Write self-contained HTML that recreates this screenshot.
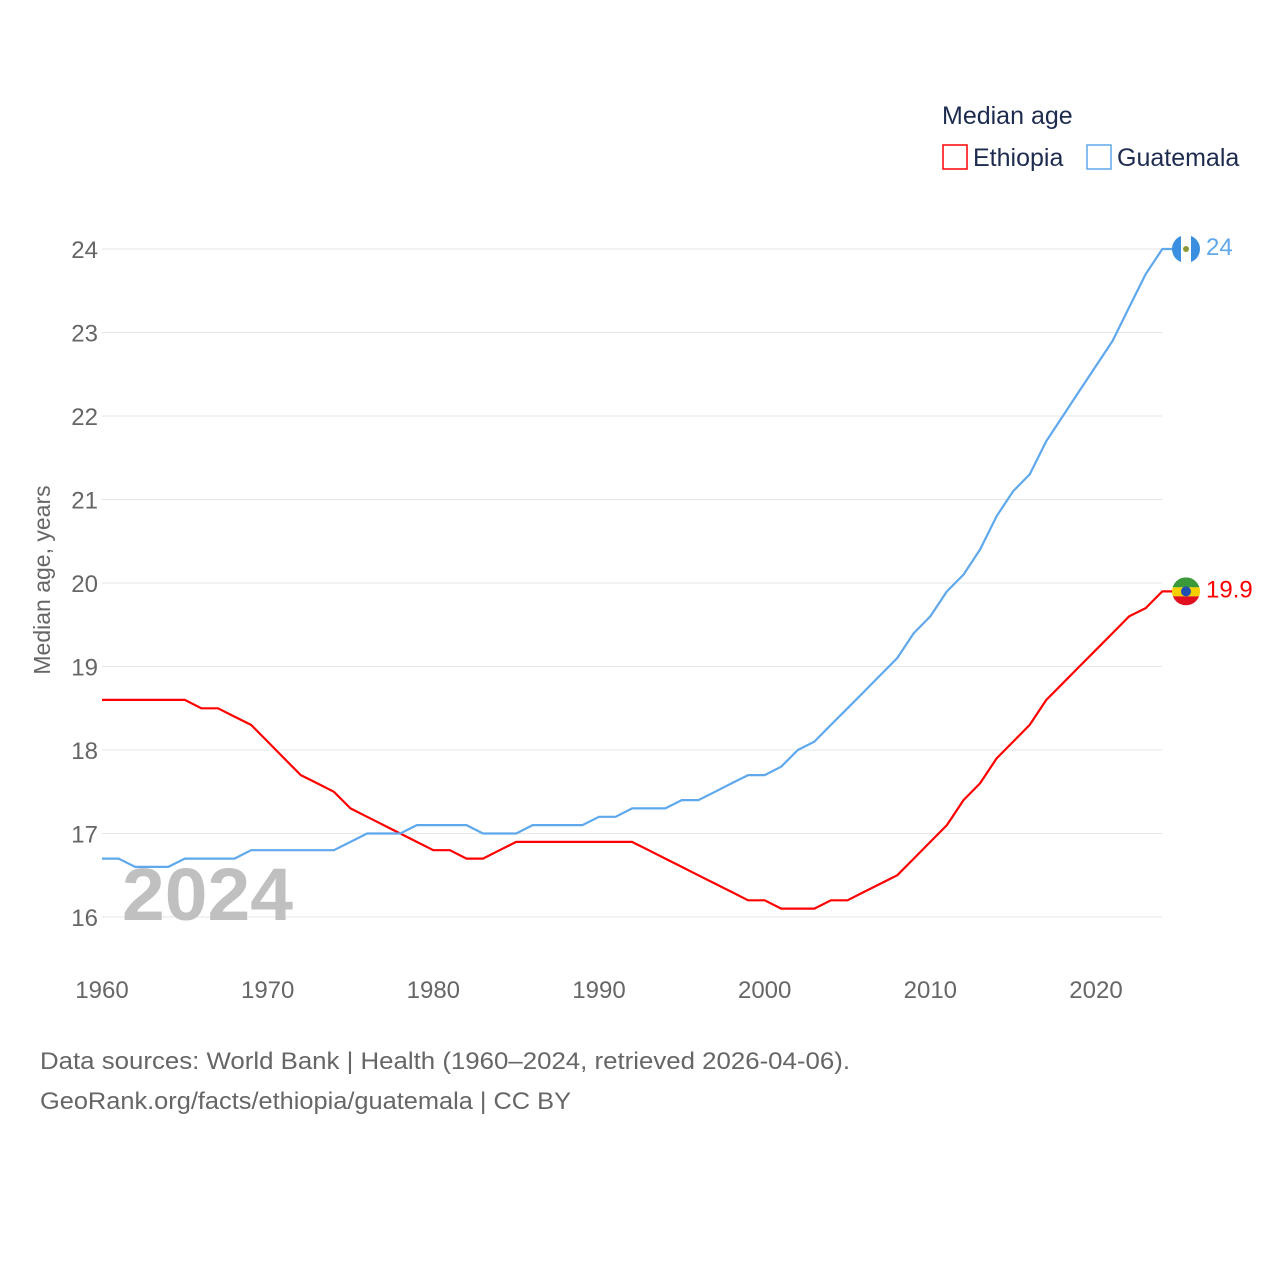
<!DOCTYPE html>
<html><head><meta charset="utf-8">
<style>
html,body{margin:0;padding:0;background:#fff;}
body{width:1280px;height:1280px;position:relative;font-family:"Liberation Sans",sans-serif;overflow:hidden;}
svg text{font-family:"Liberation Sans",sans-serif;}
</style></head><body>
<svg id="chart" width="1280" height="1280" xmlns="http://www.w3.org/2000/svg">
<g id="grid"></g>
<g id="yticks"></g>
<g id="xticks"></g>
<text x="122" y="920" font-size="74" font-weight="bold" fill="#c0c0c0" textLength="171" lengthAdjust="spacingAndGlyphs">2024</text>
<text transform="translate(50,580) rotate(-90)" text-anchor="middle" font-size="23" fill="#666">Median age, years</text>
<g id="series"></g>
<text x="942" y="124" font-size="25" fill="#1d2b4f">Median age</text>
<g>
<rect x="943" y="145" width="24" height="24" fill="none" stroke="#ff0000" stroke-width="1.5"/>
<text x="973" y="166" font-size="25" fill="#1d2b4f">Ethiopia</text></g>
<g>
<rect x="1087" y="145" width="24" height="24" fill="none" stroke="#5fa8ec" stroke-width="1.5"/>
<text x="1117" y="166" font-size="25" fill="#1d2b4f">Guatemala</text></g>
<text x="40" y="1069" font-size="24" fill="#666" textLength="810" lengthAdjust="spacingAndGlyphs">Data sources: World Bank | Health (1960–2024, retrieved 2026-04-06).</text>
<text x="40" y="1109" font-size="24" fill="#666" textLength="531" lengthAdjust="spacingAndGlyphs">GeoRank.org/facts/ethiopia/guatemala | CC BY</text>
</svg>
<script>
const years=[];for(let y=1960;y<=2024;y++)years.push(y);
const ethiopia=[18.6,18.6,18.6,18.6,18.6,18.6,18.5,18.5,18.4,18.3,18.1,17.9,17.7,17.6,17.5,17.3,17.2,17.1,17.0,16.9,16.8,16.8,16.7,16.7,16.8,16.9,16.9,16.9,16.9,16.9,16.9,16.9,16.9,16.8,16.7,16.6,16.5,16.4,16.3,16.2,16.2,16.1,16.1,16.1,16.2,16.2,16.3,16.4,16.5,16.7,16.9,17.1,17.4,17.6,17.9,18.1,18.3,18.6,18.8,19.0,19.2,19.4,19.6,19.7,19.9];
const guatemala=[16.7,16.7,16.6,16.6,16.6,16.7,16.7,16.7,16.7,16.8,16.8,16.8,16.8,16.8,16.8,16.9,17.0,17.0,17.0,17.1,17.1,17.1,17.1,17.0,17.0,17.0,17.1,17.1,17.1,17.1,17.2,17.2,17.3,17.3,17.3,17.4,17.4,17.5,17.6,17.7,17.7,17.8,18.0,18.1,18.3,18.5,18.7,18.9,19.1,19.4,19.6,19.9,20.1,20.4,20.8,21.1,21.3,21.7,22.0,22.3,22.6,22.9,23.3,23.7,24.0];
const yTicks=[16,17,18,19,20,21,22,23,24];
const xTicks=[1960,1970,1980,1990,2000,2010,2020];
const X=y=>102+(y-1960)*(994/60);
const Y=v=>917-(v-16)*83.5;
const NS="http://www.w3.org/2000/svg";
function mk(tag,attrs,parent,txt){const e=document.createElementNS(NS,tag);for(const k in attrs)e.setAttribute(k,attrs[k]);if(txt!=null)e.textContent=txt;parent.appendChild(e);return e;}
const grid=document.getElementById('grid'),yt=document.getElementById('yticks'),xt=document.getElementById('xticks'),ser=document.getElementById('series');
yTicks.forEach(v=>{
 const l=mk('line',{x1:102,x2:1162,y1:Y(v),y2:Y(v),stroke:'#e6e6e6','stroke-width':1},grid);
 
 
 const t=mk('text',{x:98,y:Y(v)+9,'text-anchor':'end','font-size':24,fill:'#666'},yt,String(v));
 
 
});
xTicks.forEach(v=>{
 const t=mk('text',{x:X(v),y:998,'text-anchor':'middle','font-size':24,fill:'#666'},xt,String(v));
 
 
});
function line(data,color,name){
 let d=data.map((v,i)=>(i?'L':'M')+X(years[i]).toFixed(1)+','+Y(v).toFixed(1)).join('');
 d+='L'+(X(years[years.length-1])+10).toFixed(1)+','+Y(data[data.length-1]).toFixed(1);
 const p=mk('path',{d:d,fill:'none',stroke:color,'stroke-width':2.2,'stroke-linejoin':'round'},ser);
 
 
}
line(ethiopia,'#ff0000','ethiopia-line');
line(guatemala,'#5fa8ec','guatemala-line');
const ge=guatemala[guatemala.length-1],ee=ethiopia[ethiopia.length-1];
const gx=1186,gy=Y(ge);
const gm=mk('g',{},ser);


mk('circle',{cx:gx,cy:gy,r:14,fill:'#3b8fe0'},gm);
mk('rect',{x:gx-5,y:gy-14,width:10,height:28,fill:'#fff'},gm);
mk('circle',{cx:gx,cy:gy,r:3,fill:'#8a9a3a'},gm);
const gl=mk('text',{x:1206,y:gy+6,'font-size':24,fill:'#5fa8ec'},ser,String(ge));


const ey=Y(ee);
const em=mk('g',{},ser);


mk('clipPath',{id:'ec'},em);
mk('circle',{cx:gx,cy:ey,r:14},document.getElementById('ec'));
const eg=mk('g',{'clip-path':'url(#ec)'},em);
mk('rect',{x:gx-14,y:ey-14,width:28,height:10,fill:'#3a9a3a'},eg);
mk('rect',{x:gx-14,y:ey-4,width:28,height:9,fill:'#f5d000'},eg);
mk('rect',{x:gx-14,y:ey+5,width:28,height:9,fill:'#e01020'},eg);
mk('circle',{cx:gx,cy:ey,r:5,fill:'#1f4fb0'},em);
const el=mk('text',{x:1206,y:ey+6,'font-size':24,fill:'#ff0000'},ser,String(ee));


</script>
</body></html>
